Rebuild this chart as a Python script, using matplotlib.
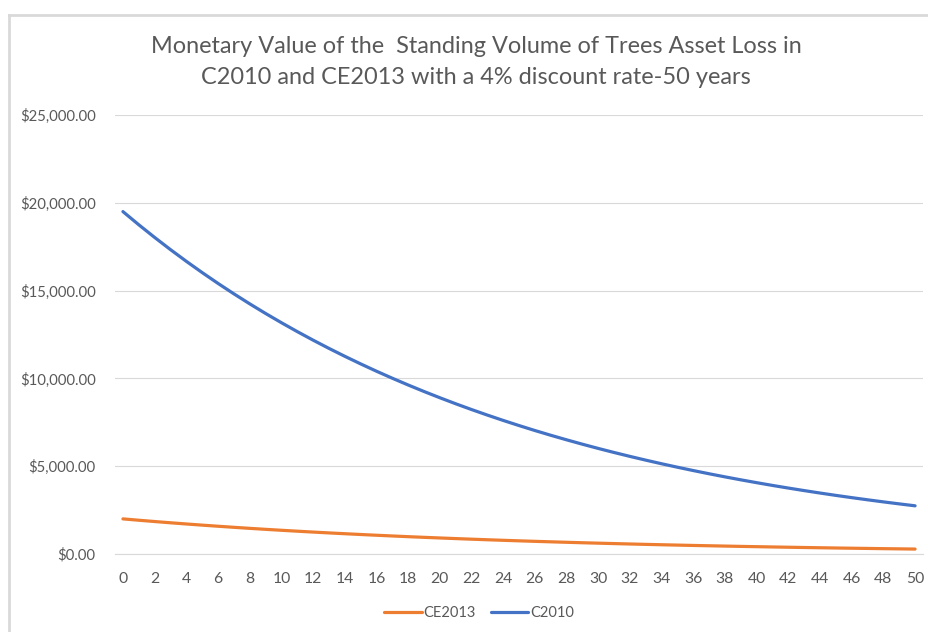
import matplotlib
matplotlib.use("Agg")
import matplotlib.pyplot as plt
from matplotlib.lines import Line2D
from matplotlib.ticker import FuncFormatter

years = list(range(0, 51))
c2010 = [19500, 18750, 18029, 17335, 16669, 16028, 15411, 14818, 14248, 13700,
         13174, 12667, 12180, 11711, 11261, 10828, 10411, 10011, 9626, 9256,
         8900, 8557, 8228, 7912, 7607, 7315, 7033, 6763, 6503, 6253,
         6012, 5781, 5559, 5345, 5139, 4942, 4752, 4569, 4393, 4224,
         4062, 3905, 3755, 3611, 3472, 3338, 3210, 3087, 2968, 2854, 2744]
ce2013 = [2000, 1923, 1849, 1778, 1710, 1644, 1581, 1520, 1461, 1405,
          1351, 1299, 1249, 1201, 1155, 1111, 1068, 1027, 987, 949,
          913, 878, 844, 811, 780, 750, 721, 694, 667, 641,
          617, 593, 570, 548, 527, 507, 487, 469, 451, 433,
          417, 401, 385, 370, 356, 342, 329, 317, 304, 293, 281]
yticks = [0, 5000, 10000, 15000, 20000, 25000]
xticks = list(range(0, 51, 2))
title = "Monetary Value of the  Standing Volume of Trees Asset Loss in\nC2010 and CE2013 with a 4% discount rate-50 years"

plt.rcParams['font.family'] = ['Lato', 'DejaVu Sans']
txt = '#595959'
grid = '#d9d9d9'

fig = plt.figure(figsize=(9.29, 6.32), dpi=100)
ax = fig.add_axes([115/929, 1-554/632, (923-115)/929, (554-115)/632])

l1, = ax.plot(years, ce2013, color='#ED7D31', lw=2.3, solid_capstyle='round', label='CE2013')
l2, = ax.plot(years, c2010, color='#4472C4', lw=2.3, solid_capstyle='round', label='C2010')

ax.set_xlim(-0.5, 50.5)
ax.set_ylim(0, 25000)
ax.set_yticks(yticks)
ax.set_xticks(xticks)
ax.yaxis.set_major_formatter(FuncFormatter(lambda v, p: "${:,.2f}".format(v)))
ax.grid(axis='y', color=grid, lw=0.8)
ax.set_axisbelow(True)
for s in ['top', 'right', 'left']:
    ax.spines[s].set_visible(False)
ax.spines['bottom'].set_color(grid)
ax.spines['bottom'].set_linewidth(0.8)
ax.tick_params(axis='both', length=0, labelcolor=txt)
ax.tick_params(axis='y', pad=14, labelsize=10.7)
ax.tick_params(axis='x', pad=13, labelsize=11.3)

fig.text(476/929, 1-62/632, title, ha='center', va='center', fontsize=16.9,
         color=txt, linespacing=1.62, fontweight='normal')

fig.legend(handles=[l1, l2], loc='center', bbox_to_anchor=(479/929, 1-613/632),
           ncol=2, frameon=False, fontsize=10.5, labelcolor=txt, handlelength=2.6,
           handletextpad=0.1, columnspacing=1.0)

fig.add_artist(Line2D([8.5/929, 8.5/929], [0, 1-14.5/632], color=grid, lw=2, transform=fig.transFigure))
fig.add_artist(Line2D([8.5/929, 1], [1-14.5/632, 1-14.5/632], color=grid, lw=2, transform=fig.transFigure))

fig.savefig('out.png', dpi=100)
